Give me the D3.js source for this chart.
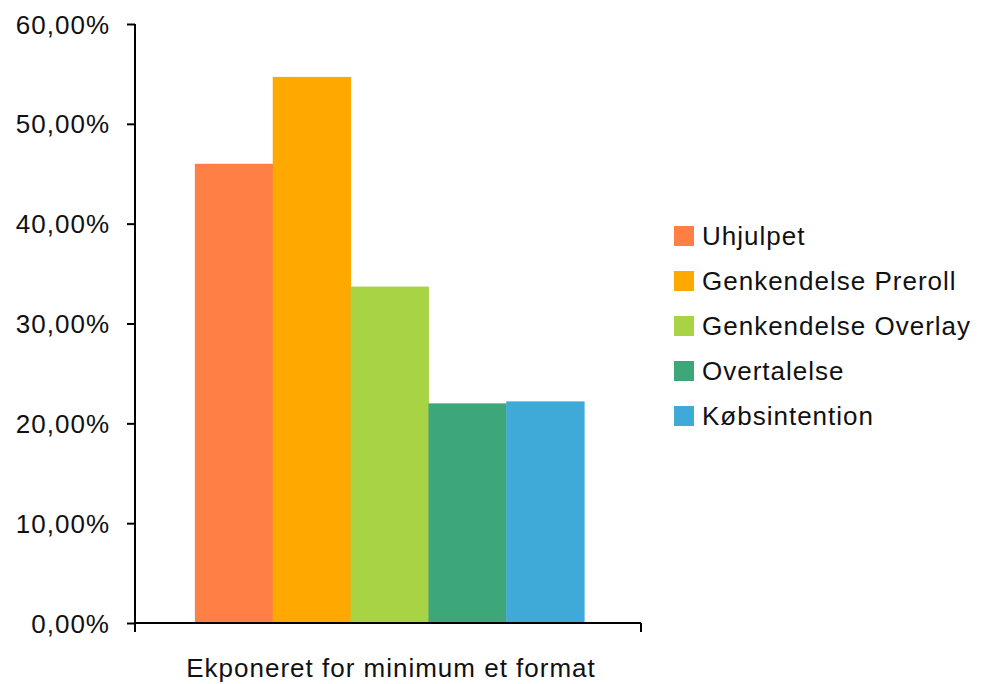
<!DOCTYPE html>
<html><head><meta charset="utf-8">
<script src="https://cdn.jsdelivr.net/npm/d3@7"></script>
<style>
body{margin:0;background:#fff;}
text{font-family:"Liberation Sans",Arial,sans-serif;font-size:26px;letter-spacing:1px;fill:#111;}
</style></head>
<body><svg id="c" width="981" height="684"></svg>
<script>
const category = ["Ekponeret for minimum et format"];
const seriesNames = ["Uhjulpet","Genkendelse Preroll","Genkendelse Overlay","Overtalelse","Købsintention"];
const seriesValues = [46.0, 54.7, 33.7, 22.0, 22.2];
const seriesColors = ["#FF7F45","#FFA800","#A8D344","#3EA77A","#3FAAD8"];
const yTicks = [0,10,20,30,40,50,60];

const svg = d3.select("#c");
const pL=135, pR=641, pT=24, pB=623;
const y = d3.scaleLinear().domain([0,60]).range([pB,pT]);
const x0 = d3.scaleBand().domain(category).range([pL+1.5,pR+1.5]).paddingInner(0).paddingOuter(0.15);
const x1 = d3.scaleBand().domain(seriesNames).range([0,x0.bandwidth()]).padding(0);

const g = svg.append("g");
g.selectAll("rect.bar").data(seriesNames.map((n,i)=>({n,v:seriesValues[i],c:seriesColors[i]})))
 .enter().append("rect").attr("class","bar")
 .attr("x",d=>x0(category[0])+x1(d.n)).attr("width",x1.bandwidth()+0.5)
 .attr("y",d=>y(d.v)).attr("height",d=>pB-y(d.v)).attr("fill",d=>d.c);

// y axis
const fmt = v => v.toFixed(2).replace(".",",")+"%";
const yAxis = svg.append("g").attr("transform",`translate(${pL},0)`)
 .call(d3.axisLeft(y).tickValues(yTicks).tickFormat(fmt).tickSize(8).tickPadding(17));
yAxis.select(".domain").attr("d",`M0,${pT}V${pB}`).attr("stroke","#000").attr("stroke-width",2);
yAxis.selectAll(".tick line").attr("stroke","#000").attr("stroke-width",2);
yAxis.selectAll(".tick text").attr("font-size",null).attr("font-family",null).attr("dy","0.35em");

// x axis
const xAxis = svg.append("g").attr("transform",`translate(0,${pB})`);
xAxis.append("path").attr("d",`M${pL},0H${pR}M${pL},0V9M${pR},0V9`).attr("stroke","#000").attr("stroke-width",2).attr("fill","none");
xAxis.append("text").attr("x",(pL+pR)/2+3).attr("y",54).attr("text-anchor","middle").text(category[0]);

// legend
const lg = svg.append("g").attr("transform","translate(674,236)");
seriesNames.forEach((n,i)=>{
  const r = lg.append("g").attr("transform",`translate(0,${i*45})`);
  r.append("rect").attr("x",0).attr("y",-10).attr("width",20).attr("height",20).attr("fill",seriesColors[i]);
  r.append("text").attr("x",28).attr("y",0).attr("dy","0.35em").text(n);
});
</script></body></html>
